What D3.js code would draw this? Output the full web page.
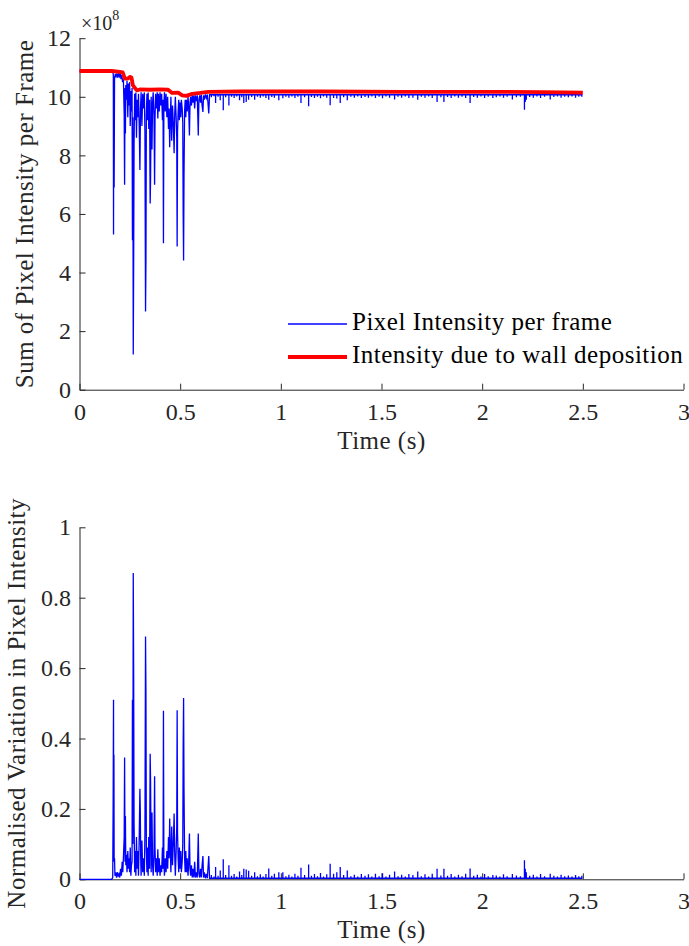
<!DOCTYPE html>
<meta charset="utf-8">
<script src="https://d3js.org/d3.v7.min.js"></script>
<style>
  body { margin: 0; background: #fff; }
  svg, svg text { font-family: "Liberation Serif", serif; }
</style>
<div id="my_dataviz"></div>
<script>

// ---- data ----
// time axis ticks (s)
var xTicks = [0, 0.5, 1, 1.5, 2, 2.5, 3];
var topYTicks = [0, 2, 4, 6, 8, 10, 12];          // x 10^8
var normYTicks = [0, 0.2, 0.4, 0.6, 0.8, 1];

// sum of pixel intensity per frame (x 10^8), early part [t, value]
var topBlue = [
  [0.000, 10.88], [0.165, 10.87], [0.168, 10.75], [0.169, 5.30], [0.170, 9.80], [0.171, 10.70],
  [0.172, 6.90], [0.174, 10.60], [0.178, 10.78], [0.182, 10.70], [0.186, 10.80], [0.190, 10.65],
  [0.194, 10.78], [0.198, 10.70], [0.202, 10.82], [0.206, 10.60], [0.210, 10.75], [0.214, 10.50],
  [0.218, 10.62], [0.222, 9.40], [0.224, 7.00], [0.226, 10.30], [0.228, 8.75], [0.230, 10.40],
  [0.233, 9.90], [0.236, 10.55], [0.240, 9.30], [0.243, 10.45], [0.246, 9.70], [0.249, 10.50],
  [0.252, 9.00], [0.255, 10.20], [0.258, 9.50], [0.261, 10.30], [0.263, 5.10], [0.265, 9.30],
  [0.267, 1.20], [0.269, 4.40], [0.271, 8.40], [0.274, 10.10], [0.277, 9.20], [0.280, 10.15],
  [0.283, 8.60], [0.286, 9.90], [0.290, 9.30], [0.293, 10.10], [0.297, 8.90], [0.300, 7.50],
  [0.303, 9.60], [0.306, 10.15], [0.310, 9.00], [0.314, 10.10], [0.318, 9.60], [0.322, 10.15],
  [0.325, 8.80], [0.328, 2.67], [0.330, 4.40], [0.332, 9.40], [0.335, 10.10], [0.338, 9.20],
  [0.341, 10.15], [0.344, 8.90], [0.348, 9.90], [0.351, 6.36], [0.353, 7.20], [0.356, 10.00],
  [0.360, 8.20], [0.363, 9.80], [0.366, 10.15], [0.370, 9.40], [0.373, 7.00], [0.375, 9.20],
  [0.378, 10.10], [0.382, 9.60], [0.386, 10.15], [0.389, 9.26], [0.392, 10.10], [0.396, 9.50],
  [0.400, 10.15], [0.404, 9.70], [0.408, 10.10], [0.412, 9.20], [0.415, 9.90], [0.417, 5.00],
  [0.419, 9.70], [0.422, 10.15], [0.426, 9.50], [0.430, 10.10], [0.434, 9.30], [0.438, 10.00],
  [0.442, 8.90], [0.445, 9.60], [0.448, 8.28], [0.451, 9.20], [0.454, 10.00], [0.458, 8.50],
  [0.462, 9.70], [0.466, 9.10], [0.470, 8.07], [0.473, 9.40], [0.476, 10.00], [0.480, 9.30],
  [0.483, 8.60], [0.485, 4.89], [0.487, 8.80], [0.490, 9.50], [0.493, 9.90], [0.496, 9.20],
  [0.500, 9.80], [0.503, 9.30], [0.506, 9.90], [0.510, 9.60], [0.513, 9.10], [0.515, 6.00],
  [0.517, 4.41], [0.519, 7.26], [0.522, 9.50], [0.525, 9.90], [0.528, 9.30], [0.531, 9.90],
  [0.535, 9.50], [0.539, 10.00], [0.542, 9.70], [0.546, 8.68], [0.549, 9.80], [0.552, 10.00],
  [0.556, 9.70], [0.560, 10.05], [0.564, 9.80], [0.568, 10.05], [0.572, 9.60], [0.576, 10.05],
  [0.580, 9.85], [0.585, 10.05], [0.590, 8.68], [0.593, 9.90], [0.597, 10.05], [0.601, 9.80],
  [0.605, 10.08], [0.609, 9.70], [0.613, 9.48], [0.616, 10.05], [0.620, 9.90], [0.625, 10.08],
  [0.630, 9.95], [0.635, 10.08], [0.642, 9.43], [0.646, 10.07]
];

// intensity due to wall deposition (x 10^8)
var topRed = [
  [0.000, 10.88], [0.160, 10.88], [0.200, 10.85], [0.215, 10.83], [0.225, 10.62], [0.240, 10.62],
  [0.250, 10.68], [0.258, 10.66], [0.265, 10.40], [0.275, 10.30], [0.285, 10.22], [0.300, 10.25],
  [0.350, 10.24], [0.400, 10.25], [0.440, 10.24], [0.460, 10.13], [0.490, 10.14], [0.510, 10.05],
  [0.530, 10.03], [0.560, 10.10], [0.600, 10.13], [0.640, 10.17], [0.800, 10.18], [1.200, 10.18],
  [1.600, 10.17], [2.000, 10.17], [2.300, 10.16], [2.500, 10.14]
];

// normalised variation in pixel intensity, early part [t, value]
var normMain = [
  [0.000, 0.000], [0.160, 0.000], [0.165, 0.005], [0.167, 0.20], [0.169, 0.51], [0.170, 0.06],
  [0.171, 0.354], [0.172, 0.05], [0.174, 0.06], [0.176, 0.01], [0.180, 0.02], [0.184, 0.005],
  [0.188, 0.02], [0.192, 0.01], [0.196, 0.015], [0.200, 0.005], [0.204, 0.03], [0.208, 0.01],
  [0.212, 0.05], [0.215, 0.02], [0.218, 0.06], [0.222, 0.12], [0.224, 0.346], [0.226, 0.05],
  [0.228, 0.18], [0.230, 0.04], [0.233, 0.07], [0.236, 0.02], [0.240, 0.08], [0.243, 0.03],
  [0.246, 0.06], [0.249, 0.02], [0.252, 0.09], [0.255, 0.01], [0.258, 0.04], [0.261, 0.05],
  [0.263, 0.51], [0.265, 0.10], [0.267, 0.87], [0.269, 0.578], [0.271, 0.16], [0.274, 0.02],
  [0.277, 0.08], [0.280, 0.01], [0.283, 0.12], [0.286, 0.03], [0.290, 0.08], [0.293, 0.01],
  [0.297, 0.13], [0.300, 0.257], [0.302, 0.195], [0.304, 0.06], [0.306, 0.01], [0.310, 0.11],
  [0.314, 0.02], [0.318, 0.06], [0.322, 0.01], [0.325, 0.13], [0.328, 0.69], [0.330, 0.53],
  [0.332, 0.08], [0.335, 0.02], [0.338, 0.09], [0.341, 0.01], [0.344, 0.12], [0.348, 0.03],
  [0.351, 0.357], [0.353, 0.28], [0.356, 0.02], [0.360, 0.19], [0.363, 0.04], [0.366, 0.01],
  [0.370, 0.07], [0.373, 0.293], [0.375, 0.09], [0.378, 0.02], [0.382, 0.06], [0.386, 0.01],
  [0.389, 0.085], [0.392, 0.02], [0.396, 0.06], [0.400, 0.01], [0.404, 0.04], [0.408, 0.02],
  [0.412, 0.09], [0.415, 0.03], [0.417, 0.479], [0.419, 0.05], [0.422, 0.01], [0.426, 0.06],
  [0.430, 0.02], [0.434, 0.08], [0.438, 0.03], [0.442, 0.12], [0.445, 0.06], [0.448, 0.173],
  [0.451, 0.09], [0.454, 0.02], [0.458, 0.15], [0.462, 0.04], [0.466, 0.10], [0.470, 0.187],
  [0.473, 0.07], [0.476, 0.01], [0.480, 0.08], [0.483, 0.15], [0.485, 0.48], [0.487, 0.13],
  [0.490, 0.06], [0.493, 0.02], [0.496, 0.09], [0.500, 0.03], [0.503, 0.08], [0.506, 0.02],
  [0.510, 0.05], [0.513, 0.10], [0.515, 0.38], [0.517, 0.515], [0.519, 0.26], [0.522, 0.06],
  [0.525, 0.02], [0.528, 0.08], [0.531, 0.02], [0.535, 0.06], [0.539, 0.01], [0.542, 0.04],
  [0.546, 0.13], [0.549, 0.03], [0.552, 0.01], [0.556, 0.04], [0.560, 0.005], [0.564, 0.03],
  [0.568, 0.005], [0.572, 0.05], [0.576, 0.005], [0.580, 0.02], [0.585, 0.005], [0.590, 0.13],
  [0.593, 0.015], [0.597, 0.005], [0.601, 0.03], [0.605, 0.005], [0.609, 0.04], [0.613, 0.066],
  [0.616, 0.005], [0.620, 0.02], [0.625, 0.003], [0.630, 0.015], [0.635, 0.003], [0.642, 0.066],
  [0.646, 0.003]
];

// later frames: [t, intensity (x 10^8), normalised variation]
var tailSpikes = [
  [0.655, 9.98, 0.012], [0.668, 10.02, 0.008], [0.676, 9.79, 0.035], [0.688, 10.00, 0.010],
  [0.699, 9.88, 0.025], [0.714, 9.54, 0.057], [0.726, 9.98, 0.012], [0.742, 9.70, 0.040],
  [0.755, 10.00, 0.010], [0.768, 9.96, 0.015], [0.781, 10.01, 0.008], [0.795, 9.88, 0.022],
  [0.806, 9.98, 0.012], [0.816, 9.79, 0.030], [0.828, 9.82, 0.028], [0.840, 9.90, 0.024],
  [0.855, 9.99, 0.010], [0.870, 9.90, 0.020], [0.884, 10.00, 0.009], [0.898, 9.97, 0.014],
  [0.912, 10.01, 0.008], [0.926, 9.96, 0.015], [0.940, 9.90, 0.031], [0.955, 9.99, 0.010],
  [0.968, 9.97, 0.016], [0.990, 9.88, 0.020], [1.010, 9.95, 0.020], [1.025, 10.00, 0.009],
  [1.040, 9.97, 0.013], [1.055, 10.01, 0.008], [1.070, 9.96, 0.016], [1.085, 10.00, 0.010],
  [1.100, 9.79, 0.033], [1.118, 9.98, 0.012], [1.138, 9.68, 0.042], [1.152, 9.99, 0.010],
  [1.167, 9.96, 0.015], [1.182, 10.00, 0.009], [1.197, 9.95, 0.018], [1.212, 10.01, 0.008],
  [1.228, 9.97, 0.014], [1.245, 9.71, 0.044], [1.262, 9.96, 0.016], [1.278, 9.94, 0.020],
  [1.295, 9.79, 0.035], [1.312, 9.98, 0.012], [1.330, 9.88, 0.025], [1.348, 10.00, 0.009],
  [1.365, 9.97, 0.013], [1.382, 10.01, 0.008], [1.400, 9.96, 0.015], [1.418, 9.99, 0.010],
  [1.435, 9.97, 0.014], [1.452, 10.01, 0.008], [1.470, 9.96, 0.016], [1.488, 10.00, 0.009],
  [1.505, 9.95, 0.017], [1.522, 10.01, 0.008], [1.540, 9.97, 0.013], [1.565, 9.91, 0.022],
  [1.582, 10.00, 0.009], [1.600, 9.97, 0.013], [1.618, 10.01, 0.008], [1.636, 9.96, 0.015],
  [1.656, 9.97, 0.012], [1.680, 9.90, 0.022], [1.698, 10.00, 0.009], [1.716, 9.97, 0.014],
  [1.734, 10.01, 0.008], [1.752, 9.96, 0.016], [1.776, 9.82, 0.030], [1.795, 9.98, 0.011],
  [1.810, 9.82, 0.030], [1.828, 9.99, 0.010], [1.846, 9.96, 0.015], [1.864, 10.01, 0.008],
  [1.882, 9.97, 0.013], [1.900, 10.00, 0.009], [1.918, 9.96, 0.016], [1.940, 9.79, 0.031],
  [1.958, 9.99, 0.010], [1.976, 9.97, 0.013], [1.994, 10.01, 0.008], [2.012, 9.96, 0.015],
  [2.030, 10.00, 0.009], [2.053, 9.96, 0.012], [2.070, 9.98, 0.011], [2.088, 10.01, 0.008],
  [2.106, 9.97, 0.014], [2.124, 10.00, 0.009], [2.150, 9.91, 0.015], [2.170, 9.98, 0.011],
  [2.190, 10.00, 0.009], [2.210, 9.56, 0.054], [2.214, 9.82, 0.030], [2.219, 9.90, 0.020],
  [2.236, 9.99, 0.010], [2.254, 9.97, 0.013], [2.272, 10.01, 0.008], [2.290, 9.96, 0.015],
  [2.310, 10.00, 0.009], [2.338, 9.91, 0.016], [2.356, 9.99, 0.010], [2.374, 10.01, 0.008],
  [2.392, 9.97, 0.013], [2.410, 10.00, 0.009], [2.428, 9.98, 0.011], [2.446, 10.01, 0.008],
  [2.464, 9.97, 0.012], [2.480, 10.00, 0.009], [2.495, 10.00, 0.010]
];
var topBase = 10.07;   // blue level between spikes after ~0.65 s
var normBase = 0.003;

var legendLabels = ["Pixel Intensity per frame", "Intensity due to wall deposition"];

// ---- svg ----
var width = 689, height = 946;
var axisColor = "#262626";
var serif = "Liberation Serif, serif";

var svg = d3.select("#my_dataviz")
  .append("svg")
    .attr("width", width)
    .attr("height", height)
    .attr("font-family", serif);

var x = d3.scaleLinear().domain([0, 3]).range([79.5, 683.5]);
var yTop = d3.scaleLinear().domain([0, 12]).range([389.7, 38.2]);
var yNorm = d3.scaleLinear().domain([0, 1]).range([879.3, 527.3]);

// append the tail spikes (vertical strokes up/down from the base level)
function withTail(main, base, col) {
  var pts = main.slice();
  tailSpikes.forEach(function(s) {
    pts.push([s[0], base], [s[0], s[col]], [s[0], base]);
  });
  return pts;
}

function drawAxes(y, yTickValues, yLabel, labelX) {
  var y0 = y.range()[0];

  var gx = svg.append("g")
    .attr("transform", "translate(0," + y0 + ")")
    .call(d3.axisBottom(x).tickValues(xTicks).tickSizeInner(-6).tickSizeOuter(0)
      .tickFormat(d3.format("~g")));
  gx.selectAll("text").attr("y", 30).attr("dy", null);

  var gy = svg.append("g")
    .attr("transform", "translate(" + x.range()[0] + ",0)")
    .call(d3.axisLeft(y).tickValues(yTickValues).tickSizeInner(-6).tickSizeOuter(0)
      .tickFormat(d3.format("~g")).tickPadding(8.5));

  [gx, gy].forEach(function(g) {
    g.attr("font-family", serif).attr("font-size", 24);
    g.select(".domain").attr("stroke", axisColor).attr("stroke-width", 1);
    g.selectAll(".tick line").attr("stroke", axisColor);
    g.selectAll("text").attr("fill", axisColor);
  });

  // x label
  svg.append("text")
    .attr("x", (x.range()[0] + x.range()[1]) / 2)
    .attr("y", y0 + 59)
    .attr("text-anchor", "middle")
    .attr("fill", axisColor)
    .attr("font-size", 25)
    .attr("letter-spacing", 0.5)
    .text("Time (s)");

  // y label
  svg.append("text")
    .attr("transform", "translate(" + labelX + "," + ((y.range()[0] + y.range()[1]) / 2) + ") rotate(-90)")
    .attr("text-anchor", "middle")
    .attr("fill", axisColor)
    .attr("font-size", 25)
    .attr("letter-spacing", 0.5)
    .text(yLabel);
}

// ---- top panel ----
drawAxes(yTop, topYTicks, "Sum of Pixel Intensity per Frame", 33);

var lineTop = d3.line()
  .x(function(d) { return x(d[0]); })
  .y(function(d) { return yTop(d[1]); });

svg.append("path")
  .datum(withTail(topBlue, topBase, 1))
  .attr("d", lineTop)
  .attr("fill", "none")
  .attr("stroke", "#0000ff")
  .attr("stroke-width", 1.3);

svg.append("path")
  .datum(topRed)
  .attr("d", lineTop)
  .attr("fill", "none")
  .attr("stroke", "#ff0000")
  .attr("stroke-width", 3.8)
  .attr("stroke-linejoin", "round");

// exponent label
var expo = svg.append("text")
  .attr("x", 81)
  .attr("y", 30)
  .attr("fill", axisColor)
  .attr("font-size", 20);
expo.append("tspan").text("\u00d710");
expo.append("tspan").attr("dy", -10).attr("font-size", 14).text("8");

// legend
var legendColors = ["#0000ff", "#ff0000"];
var legendWidths = [1.3, 3.8];
var legend = svg.selectAll(".legend")
  .data(legendLabels)
  .enter()
  .append("g")
    .attr("class", "legend")
    .attr("transform", function(d, i) { return "translate(0," + (324 + i * 33) + ")"; });
legend.append("line")
  .attr("x1", 288).attr("x2", 347)
  .attr("stroke", function(d, i) { return legendColors[i]; })
  .attr("stroke-width", function(d, i) { return legendWidths[i]; });
legend.append("text")
  .attr("x", 352)
  .attr("y", 6)
  .attr("fill", "#000")
  .attr("font-size", 25)
  .attr("letter-spacing", 0.5)
  .text(function(d) { return d; });

// ---- bottom panel ----
drawAxes(yNorm, normYTicks, "Normalised Variation in Pixel Intensity", 25);

var lineNorm = d3.line()
  .x(function(d) { return x(d[0]); })
  .y(function(d) { return yNorm(d[1]); });

svg.append("path")
  .datum(withTail(normMain, normBase, 2))
  .attr("d", lineNorm)
  .attr("fill", "none")
  .attr("stroke", "#0000ff")
  .attr("stroke-width", 1.3);

</script>
